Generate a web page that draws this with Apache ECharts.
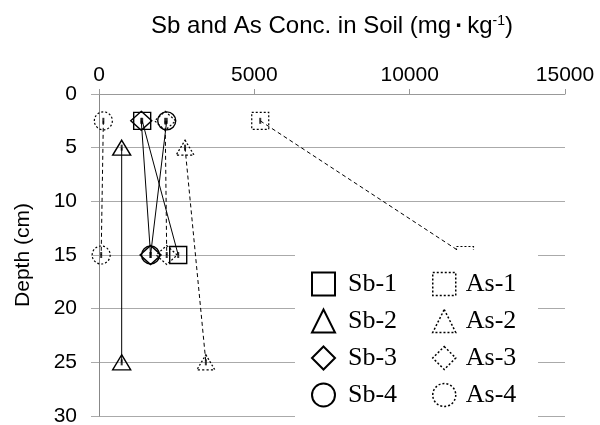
<!DOCTYPE html>
<html><head><meta charset="utf-8">
<script src="https://cdn.jsdelivr.net/npm/echarts@6/dist/echarts.min.js"></script>
<style>html,body{margin:0;padding:0;background:#fff}#c{width:600px;height:425px}</style>
</head><body><div id="c"></div>
<script>
// Data (concentration mg/kg, depth cm)
const depthA = [2.5, 15];
const depthB = [5, 25];
const sb1 = [1390, 2550];
const sb2 = [730, 730];
const sb3 = [1360, 1660];
const sb4 = [2180, 1660];
const as1 = [5190, 11780];
const as2 = [2770, 3440];
const as3 = [2130, 2180];
const as4 = [140, 70];
const xTicks = [0, 5000, 10000, 15000];
const yTicks = [0, 5, 10, 15, 20, 25, 30];

const defs = [
  {name:'Sb-1', x:sb1, d:depthA, sym:'rect', size:17, dashed:false},
  {name:'Sb-2', x:sb2, d:depthB, sym:'triangle', size:[18,15], dashed:false},
  {name:'Sb-3', x:sb3, d:depthA, sym:'diamond', size:[21,19], dashed:false},
  {name:'Sb-4', x:sb4, d:depthA, sym:'circle', size:18, dashed:false},
  {name:'As-1', x:as1, d:depthA, sym:'rect', size:17, dashed:true},
  {name:'As-2', x:as2, d:depthB, sym:'triangle', size:[18,15], dashed:true},
  {name:'As-3', x:as3, d:depthA, sym:'diamond', size:[21,19], dashed:true},
  {name:'As-4', x:as4, d:depthA, sym:'circle', size:18, dashed:true}
];

const series = [];
defs.forEach(s => {
  const pts = s.x.map((v,i)=>[v, s.d[i]]);
  series.push({type:'line', data:pts, symbol:'none', silent:true, z:2,
    lineStyle:{color:'#000', width:1, type: s.dashed ? [4,3] : 'solid'}});
  series.push({type:'scatter', name:s.name, data:pts, symbol:s.sym, symbolSize:s.size, z:3,
    itemStyle:{color:'rgba(0,0,0,0)', borderColor:'#000', borderWidth: s.dashed?1.2:1.4,
      borderType: s.dashed ? [2,2] : 'solid', opacity:1}});
  series.push({type:'scatter', data:pts, symbol:'rect', symbolSize:[2,6], z:3, silent:true,
    itemStyle:{color:'#000'}});
});

function legendData(names){
  return names.map(n => {
    const s = defs.find(d=>d.name===n);
    return {name:n, icon:s.sym, itemStyle:{color:'rgba(0,0,0,0)', borderColor:'#000',
      borderWidth: s.dashed?1.5:2, borderType: s.dashed ? [2,2] : 'solid'}};
  });
}

const chart = echarts.init(document.getElementById('c'), null, {renderer:'canvas'});
chart.setOption({
  animation:false,
  backgroundColor:'#fff',
  grid:{left:99, right:35, top:94, bottom:9, containLabel:false, outerBoundsMode:'none'},
  xAxis:{type:'value', position:'top', min:0, max:15000, interval:5000,
    name:'Sb and As Conc. in Soil (mg{d|·}kg{s|-1})', nameLocation:'middle', nameGap:55,
    nameTextStyle:{color:'#000', fontSize:24, fontFamily:'Liberation Sans',
      rich:{s:{fontSize:14, fontFamily:'Liberation Sans', color:'#000', padding:[0,0,11,0]},
            d:{fontSize:24, fontWeight:'bold', fontFamily:'Liberation Sans', color:'#000', padding:[0,4,0,4]}}},
    axisLine:{lineStyle:{color:'#999', width:1}},
    axisTick:{show:true, inside:false, length:5, lineStyle:{color:'#999'}},
    axisLabel:{color:'#000', fontSize:21, fontFamily:'Liberation Sans', margin:8,
      formatter: v => String(v)},
    splitLine:{show:false}},
  yAxis:{type:'value', inverse:true, min:0, max:30, interval:5,
    name:'Depth (cm)', nameLocation:'middle', nameGap:65, nameRotate:90,
    nameTextStyle:{color:'#000', fontSize:21, fontFamily:'Liberation Sans'},
    axisLine:{show:true, lineStyle:{color:'#888', width:1}},
    axisTick:{show:true, length:8, lineStyle:{color:'#aaa'}},
    axisLabel:{color:'#000', fontSize:21, fontFamily:'Liberation Sans', margin:22,
      formatter: v => String(v)},
    splitLine:{show:true, lineStyle:{color:'#aaa', width:1}}},
  graphic:[{type:'rect', shape:{x:295, y:250, width:243, height:172}, style:{fill:'#fff'}, z:10, silent:true}],
  legend:[
    {orient:'vertical', left:306, top:266, itemWidth:23, itemHeight:23, itemGap:11, z:20,
     data:legendData(['Sb-1','Sb-2','Sb-3','Sb-4']),
     textStyle:{fontFamily:'Liberation Serif', fontSize:26, color:'#000', padding:[0,0,0,8]}},
    {orient:'vertical', left:427, top:266, itemWidth:23, itemHeight:23, itemGap:11, z:20,
     data:legendData(['As-1','As-2','As-3','As-4']),
     textStyle:{fontFamily:'Liberation Serif', fontSize:26, color:'#000', padding:[0,0,0,5]}}
  ],
  series:series
});
</script></body></html>
